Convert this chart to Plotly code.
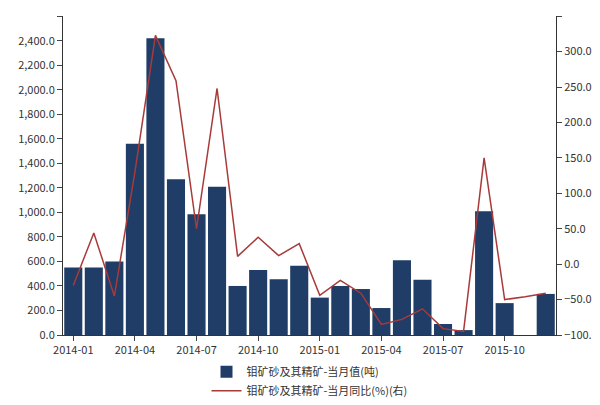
import plotly.graph_objects as go

months = ["2014-01","2014-02","2014-03","2014-04","2014-05","2014-06","2014-07","2014-08","2014-09","2014-10","2014-11","2014-12",
          "2015-01","2015-02","2015-03","2015-04","2015-05","2015-06","2015-07","2015-08","2015-09","2015-10","2015-11","2015-12"]
values = [550,550,600,1560,2420,1270,985,1210,400,530,455,565,305,400,375,220,610,450,90,40,1010,260,None,335]
yoy = [-30,44,-45,130,323,259,50,248,11,38,12,29,-44,-23,-41,-85,-78,-63,-91,-95,150,-50,-46,-41]
tick_vals = ["2014-01","2014-04","2014-07","2014-10","2015-01","2015-04","2015-07","2015-10"]
bar_name = "钼矿砂及其精矿-当月值(吨)"
line_name = "钼矿砂及其精矿-当月同比(%)(右)"

fig = go.Figure()
fig.add_bar(x=months, y=values, name=bar_name, marker=dict(color="#1f3d66", line=dict(width=0)))
fig.add_scatter(x=months, y=yoy, name=line_name, yaxis="y2", mode="lines",
                line=dict(color="#a83a3a", width=1.5))
fig.update_layout(
    width=600, height=405, paper_bgcolor="white", plot_bgcolor="white",
    font=dict(family="Noto Sans CJK SC", size=11, color="#333"),
    margin=dict(l=55, r=52, t=8, b=67), bargap=0.12,
    xaxis=dict(type="category", tickvals=tick_vals, ticktext=tick_vals, showline=True, linecolor="#333",
               ticks="outside", tickfont=dict(size=11)),
    yaxis=dict(range=[0, 2602], tickvals=list(range(0, 2601, 200)), tickformat=",.1f", showgrid=False, showline=True,
               linecolor="#333", ticks="outside", zeroline=False),
    yaxis2=dict(range=[-100, 350.3], tickvals=list(range(-100, 351, 50)), tickformat=".1f", overlaying="y", side="right",
                showgrid=False, showline=True, linecolor="#333", ticks="outside", zeroline=False),
    legend=dict(orientation="v", x=0.5, xanchor="center", y=-0.07, yanchor="top", font=dict(size=11)),
)
fig.write_html("out.html")
